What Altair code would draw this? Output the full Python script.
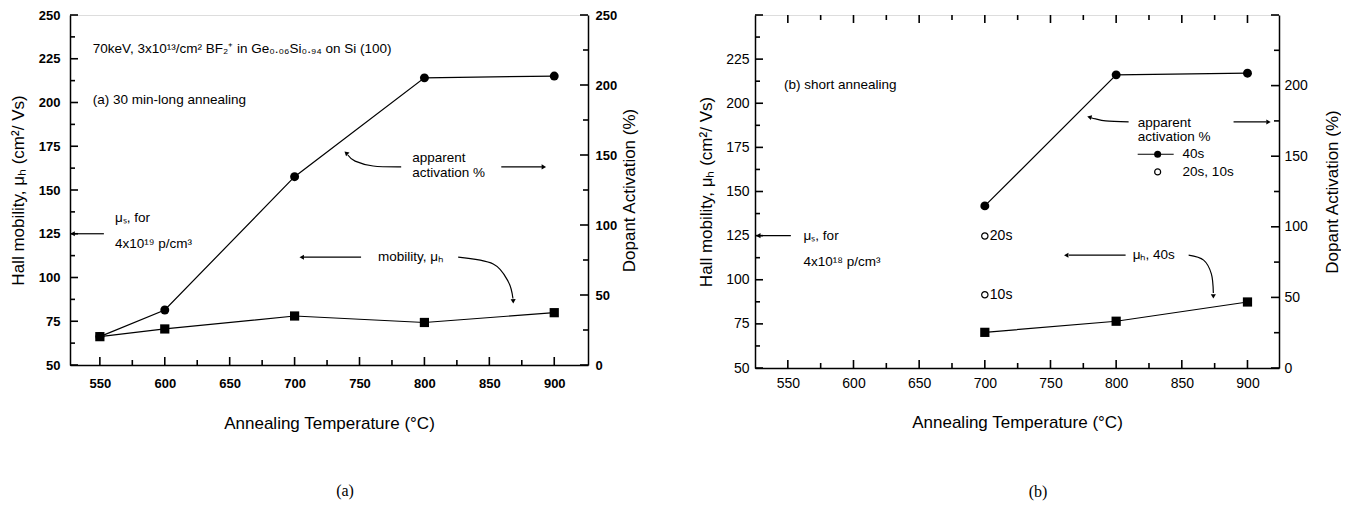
import altair as alt
import pandas as pd

# ---------------- data ----------------
# panel (a): 30 min anneal
temp_a = [550, 600, 700, 800, 900]
mobility_a = [66.2, 70.6, 78.0, 74.3, 79.9]          # cm^2/Vs (left axis)
activation_a = [20.3, 39.3, 134.5, 205.1, 206.4]     # % (right axis)

# panel (b): short anneal
temp_b = [700, 800, 900]
mobility_b = [70.2, 76.5, 87.4]
activation_b_40s = [114.8, 207.6, 208.8]
temp_b_short = [700, 700]
activation_b_short = [93.5, 51.9]
label_b_short = ["20s", "10s"]

# axis ticks
x_major = [550, 600, 650, 700, 750, 800, 850, 900]
x_minor = [575, 625, 675, 725, 775, 825, 875]
mob_major = [50, 75, 100, 125, 150, 175, 200, 225, 250]
mob_labels_a = [50, 75, 100, 125, 150, 175, 200, 225, 250]
mob_labels_b = [50, 75, 100, 125, 150, 175, 200, 225]
mob_minor = [62.5, 87.5, 112.5, 137.5, 162.5, 187.5, 212.5, 237.5]
act_major = [0, 50, 100, 150, 200, 250]
act_labels_a = [0, 50, 100, 150, 200, 250]
act_labels_b = [0, 50, 100, 150, 200]
act_minor = [25, 75, 125, 175, 225]

# annotation texts
text_a = ["70keV, 3x10¹³/cm² BF₂⁺ in Ge₀.₀₆Si₀.₉₄ on Si (100)",
          "(a) 30 min-long annealing", "μₛ, for", "4x10¹⁹ p/cm³",
          "apparent", "activation %", "mobility, μₕ"]
text_b = ["(b) short annealing", "μₛ,  for", "4x10¹⁸  p/cm³",
          "apparent", "activation %", "40s", "20s, 10s", "μₕ, 40s"]

SANS = "Liberation Sans"
W_A, H_A = 518, 350
W_B, H_B = 524, 353
MAJ, MIN = 8, 5   # tick lengths (px)


def tick_rows(values, lengths, fixed, step, along, start_id):
    rows = []
    for i, (v, L) in enumerate(zip(values, lengths)):
        k = start_id + i
        if along == "x":
            rows.append({"id": k, "seq": 0, "x": float(v), "y": float(fixed)})
            rows.append({"id": k, "seq": 1, "x": float(v), "y": float(fixed + L * step)})
        else:
            rows.append({"id": k, "seq": 0, "x": float(fixed), "y": float(v)})
            rows.append({"id": k, "seq": 1, "x": float(fixed + L * step), "y": float(v)})
    return rows


def make_panel(W, H, xdom, x_axis, yl_axis, yr_axis, df, ann, arrows, heads,
               extra_right, legend_pts, top_ticks, caption, cap_dx, cap_offset):
    xs = alt.Scale(domain=xdom, nice=False, zero=False)
    yls = alt.Scale(domain=[50, 250], nice=False, zero=False)
    yrs = alt.Scale(domain=[0, 250], nice=False, zero=False)
    px_x = (xdom[1] - xdom[0]) / W      # data units per pixel
    px_yl = 200.0 / H

    def X(f):
        return alt.X(f, type="quantitative", scale=xs, axis=x_axis)

    def YL(f):
        return alt.Y(f, type="quantitative", scale=yls, axis=yl_axis)

    def YR(f):
        return alt.Y(f, type="quantitative", scale=yrs, axis=yr_axis)

    # inward ticks as short segments (right-axis values mapped onto the aligned left scale)
    xv = x_major + x_minor
    xl = [MAJ] * len(x_major) + [MIN] * len(x_minor)
    rows = tick_rows(xv, xl, 50.0, px_yl, "x", 100)
    if top_ticks:
        rows += tick_rows(xv, xl, 250.0, -px_yl, "x", 200)
    rows += tick_rows(mob_major + mob_minor, [MAJ] * len(mob_major) + [MIN] * len(mob_minor),
                      xdom[0], px_x, "y", 300)
    rows += tick_rows([50 + a * 0.8 for a in act_major + act_minor],
                      [MAJ] * len(act_major) + [MIN] * len(act_minor), xdom[1], -px_x, "y", 400)
    tick_df = pd.DataFrame(rows)

    mob_line = alt.Chart(df).mark_line(color="black", strokeWidth=1.2).encode(x=X("t"), y=YL("mob"))
    mob_pts = alt.Chart(df).mark_point(shape="square", filled=True, size=85, color="black", opacity=1).encode(
        x=X("t"), y=YL("mob"))

    ann_txt = alt.Chart(pd.DataFrame(ann)).mark_text(
        align="left", baseline="middle", font=SANS, fontSize=13.5, color="black").encode(
        x=X("x"), y=YL("y"), text="text:N")
    segs = alt.Chart(pd.DataFrame(arrows)).mark_line(
        color="black", strokeWidth=1.2, interpolate="cardinal").encode(
        x=X("x"), y=YL("y"), detail="id:N", order=alt.Order("seq:Q"))
    ticks = alt.Chart(tick_df).mark_line(color="#000000", strokeWidth=1.6, strokeCap="butt").encode(
        x=X("x"), y=YL("y"), detail="id:N", order=alt.Order("seq:Q"))
    hd = alt.Chart(pd.DataFrame(heads)).mark_point(
        shape="triangle-up", filled=True, size=26, color="black", opacity=1).encode(
        x=X("x"), y=YL("y"), angle=alt.Angle("ang:Q", scale=None))

    left_layers = [mob_line, mob_pts, ann_txt, segs, ticks, hd]
    if legend_pts is not None:
        lf, lo = legend_pts
        left_layers.append(alt.Chart(lf).mark_point(shape="circle", filled=True, size=50, color="black",
                                                    opacity=1).encode(x=X("x"), y=YL("y")))
        left_layers.append(alt.Chart(lo).mark_point(shape="circle", filled=False, size=36, color="black",
                                                    strokeWidth=1.2, opacity=1).encode(x=X("x"), y=YL("y")))
    left = alt.layer(*left_layers)

    act_line = alt.Chart(df).mark_line(color="black", strokeWidth=1.2).encode(x=X("t"), y=YR("act"))
    act_pts = alt.Chart(df).mark_point(shape="circle", filled=True, size=80, color="black", opacity=1).encode(
        x=X("t"), y=YR("act"))
    right_layers = [act_line, act_pts]
    if extra_right is not None:
        right_layers.append(alt.Chart(extra_right).mark_point(
            shape="circle", filled=False, size=40, color="black", strokeWidth=1.2, opacity=1).encode(
            x=X("t"), y=YR("act")))
        right_layers.append(alt.Chart(extra_right).mark_text(
            align="left", baseline="middle", dx=5, font=SANS, fontSize=14, color="black").encode(
            x=X("t"), y=YR("act"), text="lab:N"))
    right = alt.layer(*right_layers)

    return alt.layer(left, right).resolve_scale(y="independent").properties(
        width=W, height=H,
        title=alt.TitleParams(caption, orient="bottom", anchor="middle", font="Liberation Serif",
                              fontSize=16, fontWeight="normal", color="black", offset=cap_offset, dx=cap_dx))


def axis_style(bold, size, **kw):
    d = dict(ticks=False, tickSize=0, grid=False, domain=True, domainColor="black", domainWidth=1.5,
             labelFont=SANS, labelFontSize=size, labelFontWeight="bold" if bold else "normal",
             labelColor="black", titleFont=SANS, titleFontSize=17, titleFontWeight="normal",
             titleColor="black", labelFlush=False, labelOverlap=False)
    d.update(kw)
    return alt.Axis(**d)


# ---------- panel (a) ----------
xa_axis = axis_style(True, 13, values=x_major, labelPadding=12, titlePadding=25,
                     title="Annealing Temperature (°C)")
yla_axis = axis_style(True, 13, values=mob_labels_a, labelPadding=10, titlePadding=11,
                      title="Hall mobility,  μₕ (cm²/ Vs)")
yra_axis = axis_style(True, 13, orient="right", values=act_labels_a, labelPadding=7, titlePadding=5,
                      title="Dopant Activation (%)", titleAngle=270, titleBaseline="top")

df_a = pd.DataFrame({"t": temp_a, "mob": mobility_a, "act": activation_a})
ann_a = {"x": [544.6, 544.6, 561.6, 561.6, 790.6, 790.6, 764.3],
         "y": [230.4, 201.3, 134.0, 118.9, 168.2, 159.8, 111.6],
         "text": text_a}
arrows_a = {"id": [1, 1, 2, 2, 2, 2, 3, 3, 4, 4, 5, 5, 5, 5],
            "seq": [0, 1, 0, 1, 2, 3, 0, 1, 0, 1, 0, 1, 2, 3],
            "x": [553.1, 529.5, 782.1, 760.5, 746.6, 741.0, 859.2, 890.5, 751.2, 707.0,
                  826.0, 853.0, 864.6, 868.2],
            "y": [125, 125, 163.2, 163.7, 166.5, 170.0, 163.2, 163.2, 111.6, 111.6,
                  111.6, 107.7, 97.6, 88.0]}
heads_a = {"x": [529.0, 739.7, 892.0, 705.5, 868.4],
           "y": [125, 171.2, 163.2, 111.6, 86.4],
           "ang": [270, 312, 90, 270, 178]}

pa = make_panel(W_A, H_A, [527, 926], xa_axis, yla_axis, yra_axis, df_a, ann_a, arrows_a, heads_a,
                None, None, False, "(a)", 16, 52)

# ---------- panel (b) ----------
xb_axis = axis_style(False, 14, values=x_major, labelPadding=8, titlePadding=24,
                     title="Annealing Temperature (°C)")
ylb_axis = axis_style(False, 14, values=mob_labels_b, labelPadding=6, titlePadding=10,
                      title="Hall mobility,  μₕ  (cm²/ Vs)")
yrb_axis = axis_style(False, 14, orient="right", values=act_labels_b, labelPadding=5, titlePadding=17,
                      title="Dopant Activation (%)", titleAngle=270, titleBaseline="top")

df_b = pd.DataFrame({"t": temp_b, "mob": mobility_b, "act": activation_b_40s})
short_b = pd.DataFrame({"t": temp_b_short, "act": activation_b_short, "lab": label_b_short})
ann_b = {"x": [547.0, 562.0, 562.0, 816.4, 816.4, 850.6, 850.6, 812.6],
         "y": [210.6, 125.0, 110.0, 188.9, 180.6, 171.1, 161.1, 113.9],
         "text": text_b}
arrows_b = {"id": [1, 1, 2, 2, 2, 2, 3, 3, 4, 4, 5, 5, 5, 5, 6, 6],
            "seq": [0, 1, 0, 1, 2, 3, 0, 1, 0, 1, 0, 1, 2, 3, 0, 1],
            "x": [552.3, 528.0, 809.5, 792.0, 784.4, 781.0, 889.4, 914.5, 807.2, 764.0,
                  855.2, 866.6, 872.5, 874.0, 816.4, 843.8],
            "y": [125, 125, 189.4, 190.0, 191.1, 191.8, 189.4, 189.4, 113.9, 113.9,
                  113.9, 111.1, 103.3, 92.5, 171.1, 171.1]}
heads_b = {"x": [527.5, 779.6, 916.0, 762.0, 874.0],
           "y": [125, 192.2, 189.4, 113.9, 90.6],
           "ang": [270, 285, 90, 270, 180]}
legend_filled_b = pd.DataFrame({"x": [831.6], "y": [171.1]})
legend_open_b = pd.DataFrame({"x": [831.6], "y": [161.1]})

pb = make_panel(W_B, H_B, [525, 924], xb_axis, ylb_axis, yrb_axis, df_b, ann_b, arrows_b, heads_b,
                short_b, (legend_filled_b, legend_open_b), True, "(b)", 21, 54)

chart = alt.hconcat(pa, pb, spacing=58).properties(padding=0).configure_view(
    stroke="black", strokeWidth=1.5).configure(background="white")

chart.save("out.html", embed_options={"renderer": "svg", "actions": False})
